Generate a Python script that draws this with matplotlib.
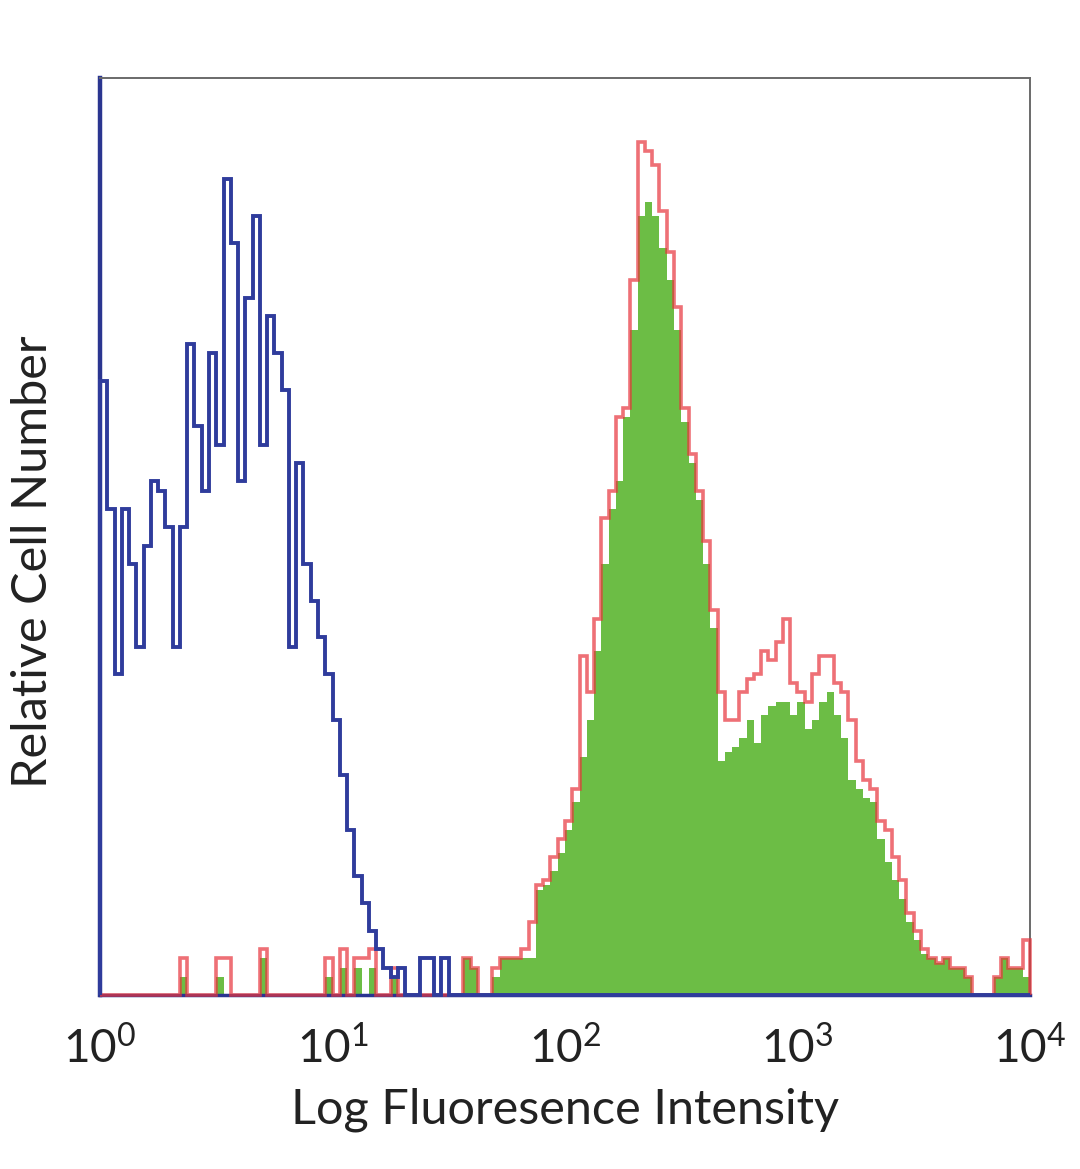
import numpy as np
import matplotlib.pyplot as plt

# 128 log-spaced channels over 4 decades
edges = np.logspace(0, 4, 129)

# isotype control (blue outline)
blue_counts = [
    67, 53, 35, 53, 47, 38, 49, 56, 55, 51, 38, 51, 71, 62, 55, 70,
    60, 89, 82, 56, 76, 85, 60, 74, 70, 66, 38, 58, 47, 43, 39, 35,
    30, 24, 18, 13, 10, 7, 5, 3, 2, 3, 0, 0, 4, 4, 0, 4,
] + [0] * 80

# stained sample (red outline)
red_counts = [
    0, 0, 0, 0, 0, 0, 0, 0, 0, 0, 0, 4, 0, 0, 0, 0,
    4, 4, 0, 0, 0, 0, 5, 0, 0, 0, 0, 0, 0, 0, 0, 4,
    0, 5, 0, 4, 4, 5, 0, 0, 3, 0, 0, 0, 0, 0, 0, 0,
    0, 0, 4, 3, 0, 0, 3, 4, 4, 4, 5, 8, 12, 12.5, 15, 17,
    19, 22.5, 37, 33, 41, 52, 55, 63, 64, 78, 93, 92, 90.5, 85.5, 81, 75,
    64, 59, 55, 49.5, 42, 33, 30, 30, 33, 34.5, 35, 37.5, 36.5, 38.5, 41, 34,
    33, 32, 35, 37, 37, 34, 33, 30, 25.5, 23.5, 22.5, 19, 18, 15, 12.5, 9,
    7, 5, 4, 3.5, 4, 3, 3, 2, 0, 0, 0, 2, 4, 3, 3, 6,
]

# stained sample (green fill)
green_counts = [
    0, 0, 0, 0, 0, 0, 0, 0, 0, 0, 0, 2, 0, 0, 0, 0,
    2, 0, 0, 0, 0, 0, 4, 0, 0, 0, 0, 0, 0, 0, 0, 2,
    0, 3, 0, 3, 0, 3, 0, 0, 2, 0, 0, 0, 0, 0, 0, 0,
    0, 0, 4, 3, 0, 0, 2, 4, 4, 4, 4, 4, 11.5, 12, 13.5, 15.5,
    18, 21, 26, 30, 37.5, 47, 53, 56, 63, 72.5, 85, 86.5, 85, 81.5, 78, 72.5,
    62.5, 58, 54, 47, 40, 25.5, 26.5, 27, 28, 30, 27.5, 30.5, 31.5, 32, 32, 30.5,
    32, 29, 30, 32, 33, 30.5, 28, 23.5, 22.5, 21.5, 21, 17, 14.5, 12.5, 10.5, 8,
    6, 4.5, 4, 3.5, 4, 3, 3, 2, 0, 0, 0, 2, 4, 3, 3, 2,
]

tick_vals = [1, 10, 100, 1000, 10000]
tick_labels = [r"$\mathregular{10^{%d}}$" % i for i in range(5)]

plt.rcParams["font.family"] = ["Lato", "DejaVu Sans"]
plt.rcParams["mathtext.fontset"] = "custom"
plt.rcParams["mathtext.rm"] = "Lato"
plt.rcParams["mathtext.default"] = "regular"
text_color = "#222222"

fig = plt.figure(figsize=(10.8, 11.69), dpi=100)
ax = fig.add_axes([0.0926, 0.1488, 0.8611, 0.7845])

ax.stairs(green_counts, edges, fill=True, color="#6cbd45", zorder=2)
ax.stairs(red_counts, edges, color="#e8343c", alpha=0.7, linewidth=2.6,
          zorder=3, clip_on=False)
ax.stairs(blue_counts, edges, color="#2f3c9c", linewidth=2.8, zorder=4,
          clip_on=False)

ax.set_xscale("log")
ax.set_xlim(1, 10000)
ax.set_ylim(0, 100)
ax.set_xticks(tick_vals)
ax.set_xticklabels(tick_labels, fontsize=33, color=text_color)
ax.minorticks_off()
ax.set_yticks([])
ax.tick_params(axis="x", length=0, pad=22)

ax.set_xlabel("Log Fluoresence Intensity", fontsize=35, labelpad=12,
              color=text_color)
ax.set_ylabel("Relative Cell Number", fontsize=35, color=text_color)
ax.yaxis.set_label_coords(-0.048, 0.472)

for side in ("top", "right"):
    ax.spines[side].set_color("#6a6a6a")
    ax.spines[side].set_linewidth(1.4)
ax.spines["left"].set_color("#2a3590")
ax.spines["left"].set_linewidth(3.2)
ax.spines["bottom"].set_color("#2a3590")
ax.spines["bottom"].set_linewidth(2.5)

fig.savefig("out.png", dpi=100)
